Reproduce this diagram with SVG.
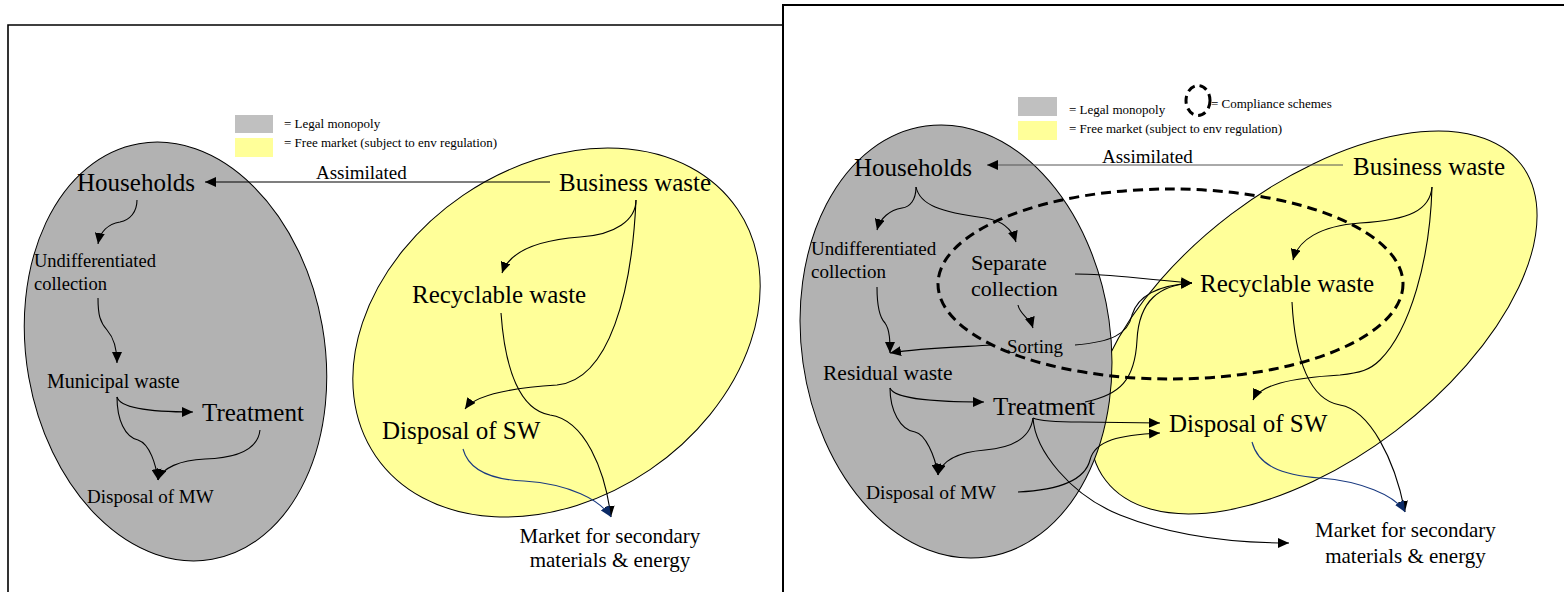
<svg xmlns="http://www.w3.org/2000/svg" width="1564" height="592" viewBox="0 0 1564 592">
<style>
text{font-family:"Liberation Serif","Times New Roman",serif;fill:#000}
.big{font-size:25px}
.mid{font-size:19px}
.leg{font-size:13px}
.frame{fill:none;stroke:#000;stroke-width:1.6}
.mono{fill:#b2b2b2;stroke:#000;stroke-width:1}
.free{fill:#ffff99;stroke:#000;stroke-width:1}
.c{fill:none;stroke:#000;stroke-width:1.1}
.blue{fill:none;stroke:#1a3a80;stroke-width:1.1}
.dash{fill:none;stroke:#000;stroke-width:3;stroke-dasharray:10 6}
</style>
<defs>
<marker id="ah" markerUnits="userSpaceOnUse" markerWidth="12" markerHeight="10" refX="11" refY="5" orient="auto"><path d="M0,0 L11,5 L0,10 z" fill="#000"/></marker>
<marker id="ahb" markerUnits="userSpaceOnUse" markerWidth="12" markerHeight="10" refX="11" refY="5" orient="auto"><path d="M0,0 L11,5 L0,10 z" fill="#0b2a66"/></marker>
</defs>
<rect x="0" y="0" width="1564" height="592" fill="#fff"/>
<path class="frame" d="M8,600 V25 H783"/>
<path class="frame" d="M783,600 V5 H1570" style="stroke-width:2"/>

<g id="regions">
<ellipse class="mono" cx="175.5" cy="351.5" rx="149" ry="211" transform="rotate(-10 175.5 351.5)"/>
<ellipse class="free" cx="556.5" cy="332.5" rx="219" ry="166" transform="rotate(-34.3 556.5 332.5)"/>
<ellipse class="free" cx="1313.5" cy="322.5" rx="261" ry="136" transform="rotate(-37.2 1313.5 322.5)"/>
<ellipse class="mono" cx="956" cy="341.5" rx="154.5" ry="217.6" transform="rotate(-8 956 341.5)"/>
<ellipse class="dash" cx="1170.5" cy="284" rx="232.5" ry="95"/>
</g>

<g id="legend-left">
<rect x="235" y="115" width="38" height="18" fill="#c0c0c0"/>
<rect x="235" y="138" width="38" height="19" fill="#ffff99"/>
<text class="leg" x="284" y="128">= Legal monopoly</text>
<text class="leg" x="284" y="147">= Free market (subject to env regulation)</text>
</g>
<g id="legend-right">
<rect x="1018" y="97" width="39" height="19" fill="#c0c0c0"/>
<rect x="1018" y="121" width="39" height="19" fill="#ffff99"/>
<text class="leg" x="1069" y="114">= Legal monopoly</text>
<text class="leg" x="1069" y="133">= Free market (subject to env regulation)</text>
<ellipse cx="1198" cy="100.5" rx="12" ry="15" fill="none" stroke="#000" stroke-width="3" stroke-dasharray="8 5"/>
<text class="leg" x="1211" y="108">= Compliance schemes</text>
</g>

<g id="connectors">
<path class="c" d="M550,182 H205" marker-end="url(#ah)"/>
<path class="c" d="M137,200 C137,212 130,220 120,222 C108,224 100,232 98,244" marker-end="url(#ah)"/>
<path class="c" d="M98,298 C98,315 100,322 107,330 C114,338 117,350 117,363" marker-end="url(#ah)"/>
<path class="c" d="M117,397 C120,408 150,412 193,412" marker-end="url(#ah)"/>
<path class="c" d="M117,397 C117,420 125,437 138,440 C150,444 156,465 158,480" marker-end="url(#ah)"/>
<path class="c" d="M260,430 C258,448 240,458 205,459 C180,460 162,468 158,480" marker-end="url(#ah)"/>
<path class="c" d="M636,200 C636,220 615,235 580,237 C540,240 510,250 502,273" marker-end="url(#ah)"/>
<path class="c" d="M636,200 C632,290 610,380 557,385 C510,388 475,395 465,409" marker-end="url(#ah)"/>
<path class="c" d="M501,313 C505,370 520,410 550,415 C585,420 605,470 611,517" marker-end="url(#ah)"/>
<path class="blue" d="M463,449 C470,475 500,480 524,481 C570,484 600,500 611,517" marker-end="url(#ahb)"/>

<path class="c" d="M1343,165 H987" style="stroke:#555;stroke-width:1" marker-end="url(#ah)"/>
<path class="c" d="M916,187 C916,200 910,207 902,208 C890,210 880,218 877,230" marker-end="url(#ah)"/>
<path class="c" d="M916,187 C920,205 940,212 985,218 C1005,221 1013,232 1016,242" marker-end="url(#ah)"/>
<path class="c" d="M877,287 C877,305 880,318 885,323 C890,330 890,342 890,353" marker-end="url(#ah)"/>
<path class="c" d="M1018,305 C1020,315 1030,318 1033,328" marker-end="url(#ah)"/>
<path class="c" d="M992,345 C960,347 920,348 890,353" marker-end="url(#ah)"/>
<path class="c" d="M890,388 C895,400 940,402 984,402" marker-end="url(#ah)"/>
<path class="c" d="M890,388 C890,410 900,430 915,432 C925,434 935,455 938,475" marker-end="url(#ah)"/>
<path class="c" d="M1033,418 C1030,440 1010,448 985,450 C960,452 942,460 938,475" marker-end="url(#ah)"/>
<path class="c" d="M1033,418 C1040,421 1060,422 1080,422 L1160,423" marker-end="url(#ah)"/>
<path class="c" d="M1033,418 C1035,450 1070,495 1120,515 C1170,535 1230,543 1289,543" marker-end="url(#ah)"/>
<path class="c" d="M1018,492 C1060,490 1085,480 1090,460 C1095,440 1120,435 1160,433" marker-end="url(#ah)"/>
<path class="c" d="M1075,345 C1110,342 1128,335 1132,315 C1138,295 1160,285 1192,283" marker-end="url(#ah)"/>
<path class="c" d="M1075,274 C1110,274 1130,278 1192,283" marker-end="url(#ah)"/>
<path class="c" d="M1085,402 C1120,395 1135,380 1137,340 C1139,300 1160,285 1192,283" marker-end="url(#ah)"/>
<path class="c" d="M1432,187 C1430,210 1410,220 1360,223 C1320,226 1298,240 1293,260" marker-end="url(#ah)"/>
<path class="c" d="M1432,187 C1430,260 1410,330 1380,360 C1370,370 1360,373 1340,375 C1290,378 1260,385 1253,400" marker-end="url(#ah)"/>
<path class="c" d="M1292,302 C1295,360 1310,400 1340,405 C1370,410 1395,460 1405,512" marker-end="url(#ah)"/>
<path class="blue" d="M1252,442 C1258,465 1280,475 1320,478 C1360,481 1395,495 1405,512" marker-end="url(#ahb)"/>
</g>

<g id="L-households"><text class="big" x="77" y="191">Households</text></g>
<g id="L-assimilated"><text class="mid" x="316" y="179">Assimilated</text></g>
<g id="L-business"><text class="big" x="559" y="191">Business waste</text></g>
<g id="L-undiff"><text style="font-size:18.5px" x="34" y="267">Undifferentiated</text><text style="font-size:18.5px" x="34" y="290">collection</text></g>
<g id="L-recyclable"><text class="big" x="412" y="303">Recyclable waste</text></g>
<g id="L-municipal"><text style="font-size:20px" x="47" y="388">Municipal waste</text></g>
<g id="L-treatment"><text class="big" x="202" y="421">Treatment</text></g>
<g id="L-disposalsw"><text class="big" x="382" y="439">Disposal of SW</text></g>
<g id="L-disposalmw"><text class="mid" x="87" y="503">Disposal of MW</text></g>
<g id="L-market"><text style="font-size:21px" x="610" y="543" text-anchor="middle">Market for secondary</text><text style="font-size:21px" x="610" y="567" text-anchor="middle">materials &amp; energy</text></g>

<g id="R-households"><text class="big" x="854" y="176">Households</text></g>
<g id="R-assimilated"><text class="mid" x="1102" y="163">Assimilated</text></g>
<g id="R-business"><text class="big" x="1353" y="175">Business waste</text></g>
<g id="R-undiff"><text class="mid" x="811" y="255">Undifferentiated</text><text class="mid" x="811" y="278">collection</text></g>
<g id="R-separate"><text style="font-size:22px" x="971" y="270">Separate</text><text style="font-size:22px" x="971" y="296">collection</text></g>
<g id="R-sorting"><text class="mid" x="1007" y="353">Sorting</text></g>
<g id="R-residual"><text style="font-size:21.5px" x="823" y="380">Residual waste</text></g>
<g id="R-treatment"><text class="big" x="993" y="415">Treatment</text></g>
<g id="R-recyclable"><text class="big" x="1200" y="292">Recyclable waste</text></g>
<g id="R-disposalsw"><text class="big" x="1169" y="432">Disposal of SW</text></g>
<g id="R-disposalmw"><text style="font-size:19.5px" x="866" y="499">Disposal of MW</text></g>
<g id="R-market"><text style="font-size:21px" x="1405.5" y="537" text-anchor="middle">Market for secondary</text><text style="font-size:21px" x="1405.5" y="563" text-anchor="middle">materials &amp; energy</text></g>
</svg>
